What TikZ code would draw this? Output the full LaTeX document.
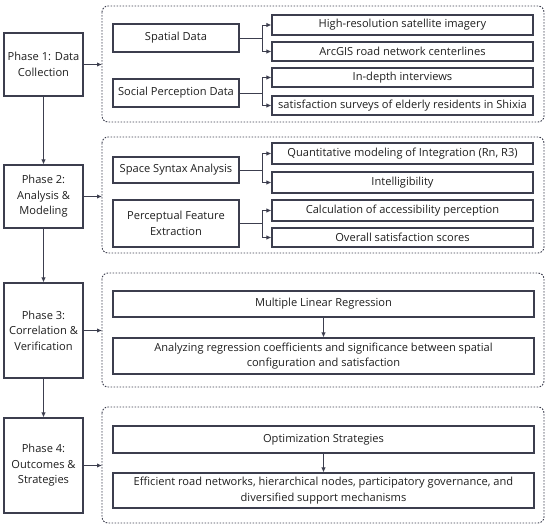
\documentclass[tikz,border=0pt]{standalone}
\usepackage{fontspec}
\setmainfont{Open Sans}
\usetikzlibrary{arrows.meta}
\definecolor{ln}{RGB}{60,62,78}
\definecolor{tx}{RGB}{30,30,30}
\begin{document}
\begin{tikzpicture}[x=1pt,y=-1pt,
  box/.style={draw=ln,line width=1.1pt,rectangle,inner sep=0pt,text=tx,align=center,font=\fontsize{11.1}{15.6}\selectfont},
  cont/.style={draw=ln,line width=0.9pt,dash pattern=on 1.6pt off 1.4pt,rounded corners=6pt},
  arr/.style={draw=ln,line width=1pt,-{Latex[length=5pt,width=4.5pt]}},
  lnk/.style={draw=ln,line width=1pt}]
\useasboundingbox (0,0) rectangle (550,528);
\newcommand{\bx}[6]{\node[box,minimum width={(#4-#2)*1pt},minimum height={(#5-#3)*1pt}] (#1) at ({(#2+#4)/2},{(#3+#5)/2}) {#6};}
% phases
\bx{p1}{4}{33}{83}{96}{Phase 1: Data\\Collection}
\bx{p2}{4}{165}{83}{228}{Phase 2:\\Analysis \&\\Modeling}
\bx{p3}{4}{283}{83}{378}{Phase 3:\\Correlation \&\\Verification}
\bx{p4}{4}{418}{83}{513}{Phase 4:\\Outcomes \&\\Strategies}
% containers
\draw[cont] (102,6) rectangle (544,122);
\draw[cont] (102,137) rectangle (544,253);
\draw[cont] (102,273) rectangle (544,387);
\draw[cont] (102,407) rectangle (544,523);
\coordinate (c1) at (102,64.5);
\coordinate (c2) at (102,196.5);
\coordinate (c3) at (102,330.5);
\coordinate (c4) at (102,465.5);
\coordinate (jx) at (262,0);
% phase 1 content
\bx{sd}{113}{24}{239}{52}{Spatial Data}
\bx{sp}{113}{79}{239}{107}{Social Perception Data}
\bx{r1}{272}{15}{533}{35}{High-resolution satellite imagery}
\bx{r2}{272}{42}{533}{61}{ArcGIS road network centerlines}
\bx{r3}{272}{68}{533}{87}{In-depth interviews}
\bx{r4}{272}{96}{533}{115}{satisfaction surveys of elderly residents in Shixia}
% phase 2 content
\bx{ss}{113}{157}{239}{183}{Space Syntax Analysis}
\bx{pf}{113}{200}{239}{247}{Perceptual Feature\\Extraction}
\bx{q1}{272}{143}{533}{164}{Quantitative modeling of Integration (Rn, R3)}
\bx{q2}{272}{172}{533}{193}{Intelligibility}
\bx{q3}{272}{200}{533}{221}{Calculation of accessibility perception}
\bx{q4}{272}{228}{533}{247}{Overall satisfaction scores}
% phase 3 content
\bx{mlr}{113}{291}{534}{317}{Multiple Linear Regression}
\bx{arc}{113}{338}{534}{374}{Analyzing regression coefficients and significance between spatial\\configuration and satisfaction}
% phase 4 content
\bx{os}{113}{426}{534}{453}{Optimization Strategies}
\bx{ef}{113}{473}{534}{508}{Efficient road networks, hierarchical nodes, participatory governance, and\\diversified support mechanisms}
% phase arrows
\draw[arr] (p1) -- (p2);
\draw[arr] (p2) -- (p3);
\draw[arr] (p3) -- (p4);
\draw[arr] (p1.east) -- (c1);
\draw[arr] (p2.east) -- (c2);
\draw[arr] (p3.east) -- (c3);
\draw[arr] (p4.east) -- (c4);
% branches
\foreach \s/\a/\b in {sd/r1/r2, sp/r3/r4, ss/q1/q2, pf/q3/q4}{
  \draw[lnk] (\s.east) -- (\s.east -| jx);
  \draw[lnk] (\a.west -| jx) -- (\b.west -| jx);
  \draw[arr] (\a.west -| jx) -- (\a.west);
  \draw[arr] (\b.west -| jx) -- (\b.west);
}
\draw[arr] (mlr) -- (arc);
\draw[arr] (os) -- (ef);
\end{tikzpicture}
\end{document}
